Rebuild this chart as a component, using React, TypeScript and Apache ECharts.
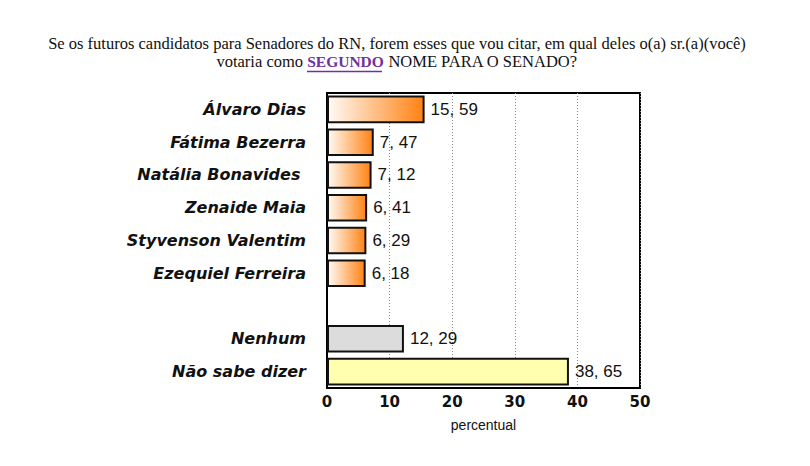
import { useEffect, useRef } from 'react';
import * as echarts from 'echarts';

const categories = [
    'Álvaro Dias',
    'Fátima Bezerra',
    'Natália Bonavides ',
    'Zenaide Maia',
    'Styvenson Valentim',
    'Ezequiel Ferreira',
    '',
    'Nenhum',
    'Não sabe dizer',
];
const values: (number | null)[] = [15.59, 7.47, 7.12, 6.41, 6.29, 6.18, null, 12.29, 38.65];
const xTicks = [0, 10, 20, 30, 40, 50];

const orange = new echarts.graphic.LinearGradient(0, 0, 1, 0, [
    { offset: 0, color: '#fffbf6' },
    { offset: 1, color: '#ff8214' },
]);

const barColor = (name: string) => {
    if (name === 'Nenhum') return '#dcdcdc';
    if (name === 'Não sabe dizer') return '#ffffaf';
    return orange;
};

const App = () => {
    const chartRef = useRef<HTMLDivElement>(null);

    useEffect(() => {
        const chart = echarts.init(chartRef.current!, null, { renderer: 'svg' });
        chart.setOption({
            animation: false,
            backgroundColor: '#fff',
            title: {
                left: 392,
                top: 30,
                textAlign: 'center',
                text:
                    'Se os futuros candidatos para Senadores do RN, forem esses que vou citar, em qual deles o(a) sr.(a)(você)\n' +
                    'votaria como {u|SEGUNDO} NOME PARA O SENADO?',
                textStyle: {
                    fontFamily: 'Liberation Serif',
                    fontSize: 16.5,
                    fontWeight: 'normal',
                    color: '#111',
                    lineHeight: 17.5,
                    rich: {
                        u: {
                            fontFamily: 'Liberation Serif',
                            fontSize: 15.5,
                            fontWeight: 'bold',
                            color: '#7030a0',
                            lineHeight: 17.5,
                        },
                    },
                },
            },
            graphic: [
                {
                    type: 'line',
                    shape: { x1: 307, y1: 71.5, x2: 382, y2: 71.5 },
                    style: { stroke: '#7030a0', lineWidth: 1.5 },
                },
            ],
            grid: {
                left: 327,
                right: 170,
                top: 93,
                bottom: 78,
                show: true,
                borderColor: '#000',
                borderWidth: 2,
                backgroundColor: 'transparent',
            },
            xAxis: {
                type: 'value',
                min: xTicks[0],
                max: xTicks[xTicks.length - 1],
                interval: 10,
                name: 'percentual',
                nameLocation: 'middle',
                nameGap: 30,
                nameTextStyle: { fontFamily: 'Liberation Sans', fontSize: 14, color: '#111' },
                axisLine: { show: true, lineStyle: { color: '#000', width: 2 } },
                axisTick: { show: false },
                axisLabel: {
                    fontFamily: 'DejaVu Sans',
                    fontSize: 15,
                    fontWeight: 'bold',
                    color: '#111',
                    margin: 6,
                },
                splitLine: { show: true, lineStyle: { color: '#888', type: [1, 2], width: 1 } },
            },
            yAxis: {
                type: 'category',
                inverse: true,
                data: categories,
                axisLine: { show: true, lineStyle: { color: '#000', width: 2 } },
                axisTick: { show: false },
                axisLabel: {
                    fontFamily: 'DejaVu Sans',
                    fontSize: 16,
                    fontWeight: 'bold',
                    fontStyle: 'italic',
                    color: '#111',
                    margin: 21,
                },
                splitLine: { show: false },
            },
            series: [
                {
                    type: 'bar',
                    barCategoryGap: '16%',
                    data: values.map((v, i) => ({
                        value: v,
                        itemStyle: {
                            color: barColor(categories[i]),
                            borderColor: '#111',
                            borderWidth: 2,
                        },
                    })),
                    label: {
                        show: true,
                        position: 'right',
                        distance: 6,
                        fontFamily: 'Liberation Sans',
                        fontSize: 17,
                        color: '#111',
                        formatter: (p: any) => String(p.value.toFixed(2)).replace('.', ', '),
                    },
                },
            ],
        });
        return () => {
            chart.dispose();
        };
    }, []);

    return (
        <div
            ref={chartRef}
            style={{ position: 'fixed', left: 0, top: 0, width: '810px', height: '466px' }}
        />
    );
};

export default App;
